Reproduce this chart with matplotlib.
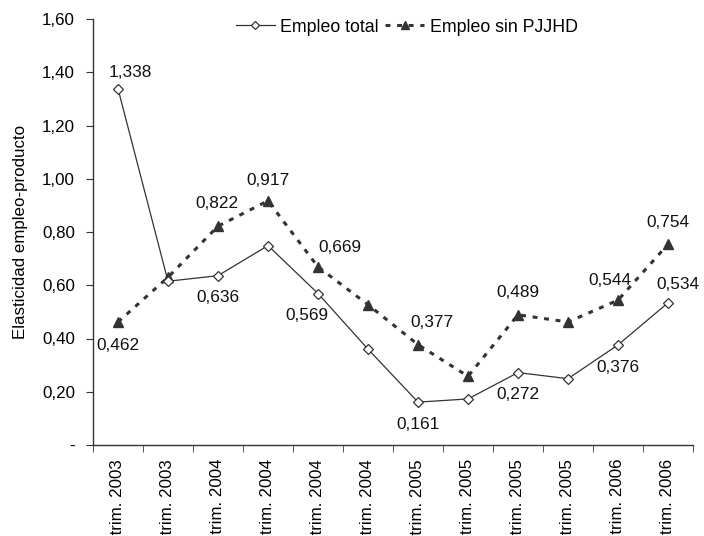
import matplotlib
matplotlib.use("Agg")
import matplotlib.pyplot as plt
from matplotlib.ticker import FixedLocator

plt.rcParams['font.family'] = ['Liberation Sans', 'DejaVu Sans']

categories = ["III trim. 2003", "IV trim. 2003", "I trim. 2004", "II trim. 2004",
              "III trim. 2004", "IV trim. 2004", "I trim. 2005", "II trim. 2005",
              "III trim. 2005", "IV trim. 2005", "I trim. 2006", "II trim. 2006"]
empleo_total = [1.338, 0.615, 0.636, 0.749, 0.569, 0.360, 0.161, 0.173, 0.272, 0.249, 0.376, 0.534]
empleo_sin = [0.462, 0.630, 0.822, 0.917, 0.669, 0.527, 0.377, 0.258, 0.489, 0.462, 0.544, 0.754]

# label offsets in points
total_labels = {0: (9, 12), 2: (0, -16), 4: (-8, -16), 6: (0, -16), 8: (0, -16), 10: (0, -16), 11: (7, 13)}
sin_labels = {0: (0, -17), 2: (-1, 16), 3: (0, 15), 4: (16, 14), 6: (10, 16), 8: (0, 16), 10: (-6, 14), 11: (0, 16)}

def fmt(v):
    return f"{v:.3f}".replace(".", ",")

fig = plt.figure(figsize=(7.04, 5.36), dpi=100)
ax = fig.add_axes([93/704, 1 - 445/536, (693-93)/704, (445-19)/536])

x = list(range(len(categories)))
ax.plot(x, empleo_total, color="#333333", lw=0.9, marker="D", markersize=5.5,
        markerfacecolor="white", markeredgecolor="#333333", markeredgewidth=0.9,
        label="Empleo total", zorder=3)
ax.plot(x, empleo_sin, color="#333333", lw=2.2, dashes=(1.6, 2.2), marker="^",
        markersize=6.5, markerfacecolor="#333333", markeredgecolor="#333333",
        label="Empleo sin PJJHD", zorder=2)

for i, off in total_labels.items():
    ax.annotate(fmt(empleo_total[i]), (x[i], empleo_total[i]), xytext=off,
                textcoords="offset points", ha="center", va="center", fontsize=12.4, color="#111111")
for i, off in sin_labels.items():
    ax.annotate(fmt(empleo_sin[i]), (x[i], empleo_sin[i]), xytext=off,
                textcoords="offset points", ha="center", va="center", fontsize=12.4, color="#111111")

ax.set_xlim(-0.5, len(categories) - 0.5)
ax.set_ylim(0, 1.6)
yt = [0, 0.2, 0.4, 0.6, 0.8, 1.0, 1.2, 1.4, 1.6]
ax.set_yticks(yt)
ax.set_yticklabels(["-"] + [f"{v:.2f}".replace(".", ",") for v in yt[1:]], fontsize=12.2)
ax.set_xticks(x)
ax.set_xticklabels(categories, rotation=90, fontsize=12.2, va="top")
ax.xaxis.set_minor_locator(FixedLocator([i - 0.5 for i in range(len(categories) + 1)]))
ax.tick_params(axis="x", which="major", length=0, pad=10)
ax.tick_params(axis="x", which="minor", length=5, direction="out", color="#333333")
ax.tick_params(axis="y", length=5, direction="out", color="#333333", pad=8)

for s in ["top", "right"]:
    ax.spines[s].set_visible(False)
for s in ["left", "bottom"]:
    ax.spines[s].set_color("#333333")
    ax.spines[s].set_linewidth(1.0)

ax.set_ylabel("Elasticidad empleo-producto", fontsize=12.2, labelpad=10)

leg = ax.legend(loc="center", bbox_to_anchor=(0.523, 0.981), ncol=2, frameon=False,
                fontsize=12.8, handlelength=2.2, columnspacing=0.35, handletextpad=0.3,
                markerscale=0.8)

fig.savefig("out.png", dpi=100)
